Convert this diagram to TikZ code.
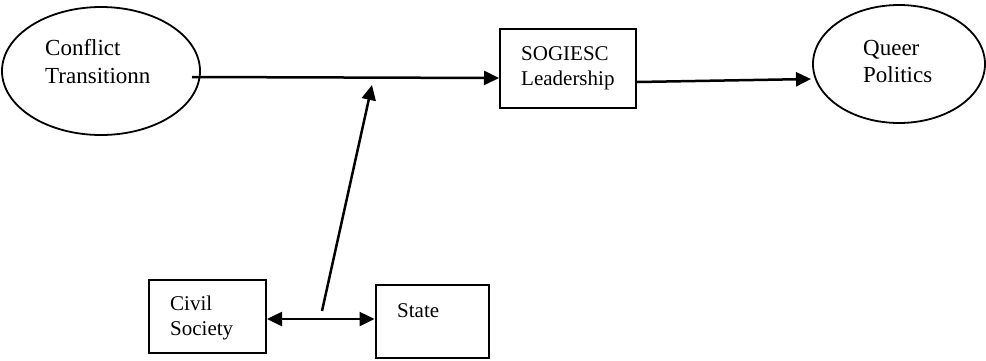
\documentclass[tikz,border=0pt]{standalone}
\usepackage{fontspec}
\setmainfont{Liberation Serif}
\usetikzlibrary{arrows.meta,shapes.geometric}
\begin{document}
\begin{tikzpicture}[x=1pt,y=-1pt,
  oval/.style={draw,line width=1.8pt,ellipse,inner sep=0pt},
  boxx/.style={draw,line width=2pt,inner sep=0pt},
  bigtxt/.style={inner sep=0pt,anchor=base west,font=\fontsize{23}{27}\selectfont},
  smalltxt/.style={inner sep=0pt,anchor=base west,font=\fontsize{21}{25}\selectfont},
  arr/.style={line width=2.5pt,-{Triangle[length=15pt,width=14pt]}},
  darr/.style={line width=2.5pt,{Triangle[length=15pt,width=14pt]}-{Triangle[length=15pt,width=14pt]}}]
\useasboundingbox (0,0) rectangle (986,360);
% ellipses
\node[oval,minimum width=198pt,minimum height=128pt] (ct) at (101,71) {};
\node[bigtxt] (ct1) at (45,55) {Conflict};
\node[bigtxt] (ct2) at (45,83) {Transitionn};
\node[oval,minimum width=172pt,minimum height=118pt] (qp) at (899,64) {};
\node[bigtxt] (qp1) at (863,55) {Queer};
\node[bigtxt] (qp2) at (863,82) {Politics};
% boxes
\node[boxx,minimum width=136pt,minimum height=79pt] (sl) at (568,68.5) {};
\node[smalltxt] (sl1) at (521,60) {SOGIESC};
\node[smalltxt] (sl2) at (521,85) {Leadership};
\node[boxx,minimum width=117pt,minimum height=73pt] (cs) at (207.5,316.5) {};
\node[smalltxt] (cs1) at (170,310) {Civil};
\node[smalltxt] (cs2) at (170,335) {Society};
\node[boxx,minimum width=113pt,minimum height=73pt] (st) at (432,321.5) {};
\node[smalltxt] (st1) at (397,317) {State};
% connector endpoints
\coordinate (ctout) at (192,77);
\coordinate (slin) at (sl.west |- 0,78);
\coordinate (slout) at (sl.east |- 0,82);
\coordinate (qpin) at (811,79);
\coordinate (mid) at (322,311);
\coordinate (tip) at (372,85);
\coordinate (csout) at (cs.east |- 0,319);
\coordinate (stin) at (st.west |- 0,319);
% connectors
\draw[arr] (ctout) -- (slin);
\draw[arr] (slout) -- (qpin);
\draw[arr] (mid) -- (tip);
\draw[darr] (csout) -- (stin);
\end{tikzpicture}
\end{document}
